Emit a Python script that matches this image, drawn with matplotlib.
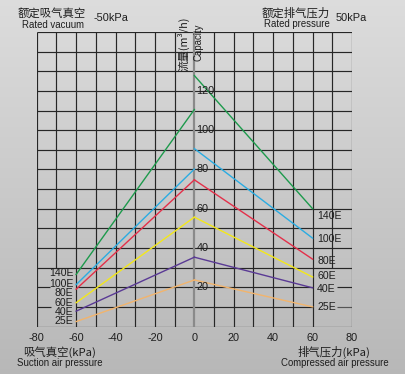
import numpy as np
import matplotlib
matplotlib.use("Agg")
import matplotlib.pyplot as plt

# ---- data ----
models = ["140E", "100E", "80E", "60E", "40E", "25E"]
vac_x = [-60, 0]
press_x = [0, 60]
vac_vals = [[26.5, 110.5], [21.3, 80.2], [19.0, 74.7], [12.1, 55.7], [7.8, 35.3], [2.5, 23.7]]
press_vals = [[127.8, 60.0], [90.6, 45.0], [74.7, 34.3], [55.7, 25.2], [35.3, 19.7], [23.7, 10.0]]
xticks = [-80, -60, -40, -20, 0, 20, 40, 60, 80]
yticks = [20, 40, 60, 80, 100, 120]

colors = ["#1d9a4c", "#2aace2", "#e4304a", "#f3e81a", "#5a3a95", "#f2b46c"]
left_label_dy = [0.8, 0.4, -1.9, 0.0, -0.2, 0.3]
right_label_dy = [-3.6, -0.5, -0.7, 0.6, -0.4, 0.1]

W, H = 405, 374
fig = plt.figure(figsize=(W / 100, H / 100), dpi=100)

# background gradient
bg = fig.add_axes([0, 0, 1, 1], zorder=-10)
grad = np.linspace(0, 1, 256).reshape(-1, 1)
top = np.array([0.865, 0.865, 0.865])
bot = np.array([0.72, 0.72, 0.72])
img = top + (bot - top) * grad[:, :, None]
bg.imshow(img, aspect="auto", extent=[0, 1, 0, 1])
bg.axis("off")

L, R = 36.7 / W, 352 / W
B, T = 1 - 326.5 / H, 1 - 32 / H
ax = fig.add_axes([L, B, R - L, T - B])
ax.set_facecolor("none")
ax.set_xlim(-80, 80)
ax.set_ylim(0, 150)
for s in ax.spines.values():
    s.set_visible(False)

gc = "#262626"
glw = 0.85
# horizontal grid
for y in range(0, 151, 10):
    if y in (10, 20):
        ax.hlines(y, -60, 60, color=gc, lw=glw, zorder=1)
    else:
        ax.hlines(y, -80, 80, color=gc, lw=glw, zorder=1)
# stubs near labels
ax.hlines(20, -80, -73.5, color=gc, lw=glw, zorder=1)
ax.hlines(10, -80, -72.5, color=gc, lw=glw, zorder=1)
ax.hlines(20, 72.5, 80, color=gc, lw=glw, zorder=1)
ax.hlines(10, 72.5, 80, color="#555555", lw=glw, zorder=1)
# vertical grid
for x in range(-80, 81, 10):
    if x == 0:
        continue
    if x in (-70, 70):
        ax.vlines(x, 30, 150, color=gc, lw=glw, zorder=1)
    else:
        ax.vlines(x, 0, 150, color=gc, lw=glw, zorder=1)
ax.vlines(0, 0, 150, color="#8a8a8a", lw=1.6, zorder=1)

for i, m in enumerate(models):
    ax.plot(vac_x, vac_vals[i], color=colors[i], lw=1.0, zorder=3)
    ax.plot(press_x, press_vals[i], color=colors[i], lw=1.0, zorder=3)

lat = "Liberation Sans"
cjk = ["Noto Sans CJK SC", "DejaVu Sans"]
tc = "#1e1e1e"
for i, m in enumerate(models):
    ax.text(vac_x[0] - 1.3, vac_vals[i][0] + left_label_dy[i], m, ha="right", va="center",
            fontsize=7.6, family=lat, color=tc, zorder=4)
    ax.text(press_x[1] + 2.3, press_vals[i][1] + right_label_dy[i], m, ha="left", va="center",
            fontsize=7.6, family=lat, color=tc, zorder=4)

for yv in yticks:
    ax.text(1.0, yv, str(yv), ha="left", va="center", fontsize=7.8, family=lat, color=tc, zorder=4)

ax.set_xticks(xticks)
ax.set_xticklabels([str(v) for v in xticks], fontsize=7.8, family=lat, color=tc)
ax.set_yticks([])
ax.tick_params(axis="x", length=0, pad=5)

def ftext(x, y, s, **kw):
    fig.text(x / W, 1 - y / H, s, **kw)

ftext(52, 13, "额定吸气真空", ha="center", va="center", fontsize=8.2, family=cjk, color=tc)
ftext(53, 25, "Rated vacuum", ha="center", va="center", fontsize=6.9, family=lat, color=tc)
ftext(110.5, 18, "-50kPa", ha="center", va="center", fontsize=7.9, family=lat, color=tc)
ftext(296, 13, "额定排气压力", ha="center", va="center", fontsize=8.2, family=cjk, color=tc)
ftext(296.5, 24, "Rated pressure", ha="center", va="center", fontsize=6.9, family=lat, color=tc)
ftext(351.5, 18, "50kPa", ha="center", va="center", fontsize=7.9, family=lat, color=tc)

ftext(183.5, 44, "流量(m³/h)", ha="center", va="center", rotation=90, fontsize=7.8, family=cjk, color=tc)
ftext(199, 42, "Capacity", ha="center", va="center", rotation=90, fontsize=6.9, family=lat, color=tc)

ftext(60, 352, "吸气真空(kPa)", ha="center", va="center", fontsize=8.2, family=cjk, color=tc)
ftext(60, 363.5, "Suction air pressure", ha="center", va="center", fontsize=6.9, family=lat, color=tc)
ftext(334, 352, "排气压力(kPa)", ha="center", va="center", fontsize=8.2, family=cjk, color=tc)
ftext(334.5, 363.5, "Compressed air pressure", ha="center", va="center", fontsize=6.9, family=lat, color=tc)

fig.savefig("out.png", dpi=100)
